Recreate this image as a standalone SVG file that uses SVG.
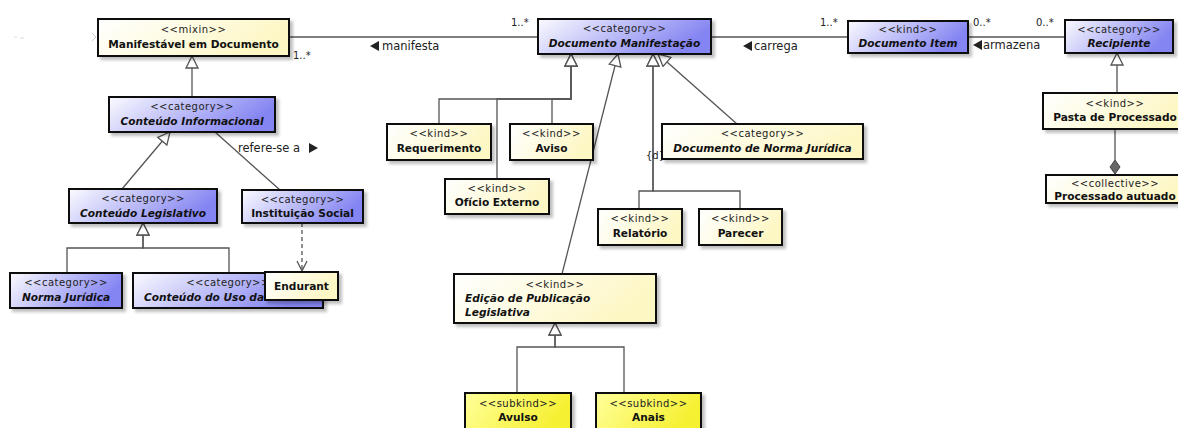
<svg xmlns="http://www.w3.org/2000/svg" width="1178" height="428" viewBox="0 0 1178 428">
<defs>
<linearGradient id="gb" x1="0" y1="0" x2="1" y2="0.3"><stop offset="0" stop-color="#fbfbff"/><stop offset="1" stop-color="#8484f2"/></linearGradient>
<linearGradient id="gy" x1="0" y1="0" x2="1" y2="0.3"><stop offset="0" stop-color="#ffffff"/><stop offset="1" stop-color="#fdf7c4"/></linearGradient>
<linearGradient id="gs" x1="0" y1="0" x2="1" y2="0.3"><stop offset="0" stop-color="#ffff9a"/><stop offset="1" stop-color="#f6f030"/></linearGradient>
<filter id="sh" x="-10%" y="-20%" width="130%" height="160%"><feDropShadow dx="3" dy="3" stdDeviation="1.5" flood-color="#000" flood-opacity="0.25"/></filter>
<marker id="gen" markerUnits="userSpaceOnUse" markerWidth="14" markerHeight="14" viewBox="0 0 14 14" refX="13" refY="7" orient="auto"><path d="M1,1 L13,7 L1,13 z" fill="#fff" stroke="#555" stroke-width="1.3"/></marker>
<marker id="dep" markerUnits="userSpaceOnUse" markerWidth="12" markerHeight="12" viewBox="0 0 12 12" refX="11" refY="6" orient="auto"><path d="M1,1 L11,6 L1,11" fill="none" stroke="#555" stroke-width="1.3"/></marker>
<style>
.b{fill:url(#gb);stroke:#111;stroke-width:2;filter:url(#sh)}
.y{fill:url(#gy);stroke:#111;stroke-width:2;filter:url(#sh)}
.s{fill:url(#gs);stroke:#111;stroke-width:2;filter:url(#sh)}
.st{font-family:"DejaVu Sans",sans-serif;font-size:10px;letter-spacing:0.5px;fill:#222;text-anchor:middle}
.nm{font-family:"DejaVu Sans",sans-serif;font-size:10.6px;font-weight:bold;fill:#111;text-anchor:middle}
.it{font-style:italic}
.lb{font-family:"DejaVu Sans",sans-serif;font-size:11.5px;fill:#222}
.ml{font-family:"DejaVu Sans",sans-serif;font-size:10px;fill:#222}
.c{fill:none;stroke:#555;stroke-width:1.3}
.g{marker-end:url(#gen)}
.d{stroke-dasharray:4,3;marker-end:url(#dep)}
.tri{fill:#222}
</style>
</defs>
<rect width="1178" height="428" fill="#fff"/>
<g id="connectors">
<path d="M92,33 L96,37 L92,41" fill="none" stroke="#ccc" stroke-width="1"/>
<path d="M14,37 h3 M20,38 h4" stroke="#ddd" stroke-width="1"/>
<path class="c" d="M289,37 H538"/>
<path class="c" d="M711,37 H848"/>
<path class="c" d="M968,37 H1065"/>
<path class="c g" d="M192,97 V56"/>
<path class="c g" d="M122,189 L170,132"/>
<path class="c" d="M215,132 L280,190"/>
<path class="c d" d="M302,223 V271"/>
<path class="c g" d="M67,273 V248 H143 V223"/>
<path class="c g" d="M229,273 V248 H143 V223"/>
<path class="c g" d="M439,124 V99 H571 V54"/>
<path class="c g" d="M497,179 V99 H571 V54"/>
<path class="c g" d="M552,124 V99 H571 V54"/>
<path class="c g" d="M562,274 L618,54"/>
<path class="c g" d="M639,209 V191 H653 V54"/>
<path class="c g" d="M740,209 V191 H653 V54"/>
<path class="c g" d="M737,124 L658,54"/>
<path class="c g" d="M517,393 V347 H555 V323"/>
<path class="c g" d="M624,393 V347 H555 V323"/>
<path class="c g" d="M1117,93 V53"/>
<path class="c" d="M1115,129 V160"/>
<polygon points="1115,160 1120,167 1115,174 1110,167" fill="#666" stroke="#444" stroke-width="1"/>
<text class="ml" x="293" y="59">1..*</text>
<text class="ml" x="511" y="26">1..*</text>
<polygon class="tri" points="379,41 379,51 370,46"/>
<text class="lb" x="382" y="50">manifesta</text>
<polygon class="tri" points="752,41 752,51 743,46"/>
<text class="lb" x="754" y="50">carrega</text>
<text class="ml" x="820" y="26">1..*</text>
<text class="ml" x="973" y="26">0..*</text>
<text class="ml" x="1036" y="26">0..*</text>
<polygon class="tri" points="982,40 982,50 973,45"/>
<text class="lb" x="983" y="49">armazena</text>
<text class="lb" x="238" y="152">refere-se a</text>
<polygon class="tri" points="309,143 309,153 318,148"/>
<text class="ml" x="646" y="159">{d}</text>
</g>
<g id="n_manifestavel"><rect class="y" x="98" y="19" width="191" height="37"/><text class="st" x="193.5" y="33">&lt;&lt;mixin&gt;&gt;</text><text class="nm" x="193.5" y="48">Manifestável em Documento</text></g>
<g id="n_docmanif"><rect class="b" x="538" y="19" width="173" height="35"/><text class="st" x="624.5" y="32">&lt;&lt;category&gt;&gt;</text><text class="nm it" x="624.5" y="47">Documento Manifestação</text></g>
<g id="n_docitem"><rect class="b" x="848" y="21" width="120" height="32"/><text class="st" x="908" y="33">&lt;&lt;kind&gt;&gt;</text><text class="nm it" x="908" y="47">Documento Item</text></g>
<g id="n_recipiente"><rect class="b" x="1065" y="20" width="108" height="33"/><text class="st" x="1119" y="33">&lt;&lt;category&gt;&gt;</text><text class="nm it" x="1119" y="47">Recipiente</text></g>
<g id="n_continf"><rect class="b" x="109" y="97" width="166" height="35"/><text class="st" x="192" y="110">&lt;&lt;category&gt;&gt;</text><text class="nm it" x="192" y="125">Conteúdo Informacional</text></g>
<g id="n_contleg"><rect class="b" x="69" y="189" width="148" height="34"/><text class="st" x="143" y="202">&lt;&lt;category&gt;&gt;</text><text class="nm it" x="143" y="217">Conteúdo Legislativo</text></g>
<g id="n_instsocial"><rect class="b" x="242" y="190" width="121" height="33"/><text class="st" x="302.5" y="203">&lt;&lt;category&gt;&gt;</text><text class="nm" x="302.5" y="217">Instituição Social</text></g>
<g id="n_norma"><rect class="b" x="10" y="273" width="112" height="35"/><text class="st" x="66" y="286">&lt;&lt;category&gt;&gt;</text><text class="nm it" x="66" y="301">Norma Jurídica</text></g>
<g id="n_contuso"><rect class="b" x="133" y="273" width="190" height="35"/><text class="st" x="228" y="286">&lt;&lt;category&gt;&gt;</text><text class="nm it" x="144" y="301" style="text-anchor:start">Conteúdo do Uso da</text></g>
<g id="n_endurant"><rect class="y" x="265" y="272" width="73" height="28"/><text class="nm" x="301.5" y="290">Endurant</text></g>
<g id="n_requerimento"><rect class="y" x="387" y="124" width="104" height="36"/><text class="st" x="439" y="137">&lt;&lt;kind&gt;&gt;</text><text class="nm" x="439" y="152">Requerimento</text></g>
<g id="n_aviso"><rect class="y" x="510" y="124" width="83" height="36"/><text class="st" x="551.5" y="137">&lt;&lt;kind&gt;&gt;</text><text class="nm" x="551.5" y="152">Aviso</text></g>
<g id="n_oficio"><rect class="y" x="445" y="179" width="104" height="35"/><text class="st" x="497" y="192">&lt;&lt;kind&gt;&gt;</text><text class="nm" x="497" y="206">Ofício Externo</text></g>
<g id="n_docnorma"><rect class="y" x="662" y="124" width="201" height="35"/><text class="st" x="762.5" y="137">&lt;&lt;category&gt;&gt;</text><text class="nm it" x="762.5" y="152">Documento de Norma Jurídica</text></g>
<g id="n_relatorio"><rect class="y" x="598" y="209" width="84" height="36"/><text class="st" x="640" y="222">&lt;&lt;kind&gt;&gt;</text><text class="nm" x="640" y="237">Relatório</text></g>
<g id="n_parecer"><rect class="y" x="699" y="209" width="83" height="36"/><text class="st" x="740.5" y="222">&lt;&lt;kind&gt;&gt;</text><text class="nm" x="740.5" y="237">Parecer</text></g>
<g id="n_edicao"><rect class="y" x="454" y="274" width="202" height="49"/><text class="st" x="555" y="288">&lt;&lt;kind&gt;&gt;</text><text class="nm it" x="465" y="302" style="text-anchor:start">Edição de Publicação</text><text class="nm it" x="465" y="316" style="text-anchor:start">Legislativa</text></g>
<g id="n_avulso"><rect class="s" x="465" y="393" width="106" height="40"/><text class="st" x="518" y="407">&lt;&lt;subkind&gt;&gt;</text><text class="nm" x="518" y="421">Avulso</text></g>
<g id="n_anais"><rect class="s" x="596" y="393" width="105" height="40"/><text class="st" x="648.5" y="407">&lt;&lt;subkind&gt;&gt;</text><text class="nm" x="648.5" y="421">Anais</text></g>
<g id="n_pasta"><rect class="y" x="1043" y="93" width="140" height="36"/><text class="st" x="1115" y="107">&lt;&lt;kind&gt;&gt;</text><text class="nm" x="1115" y="121">Pasta de Processado</text></g>
<g id="n_processado"><rect class="y" x="1046" y="175" width="137" height="28"/><text class="st" x="1115" y="187">&lt;&lt;collective&gt;&gt;</text><text class="nm" x="1115" y="200">Processado autuado</text></g>
</svg>
